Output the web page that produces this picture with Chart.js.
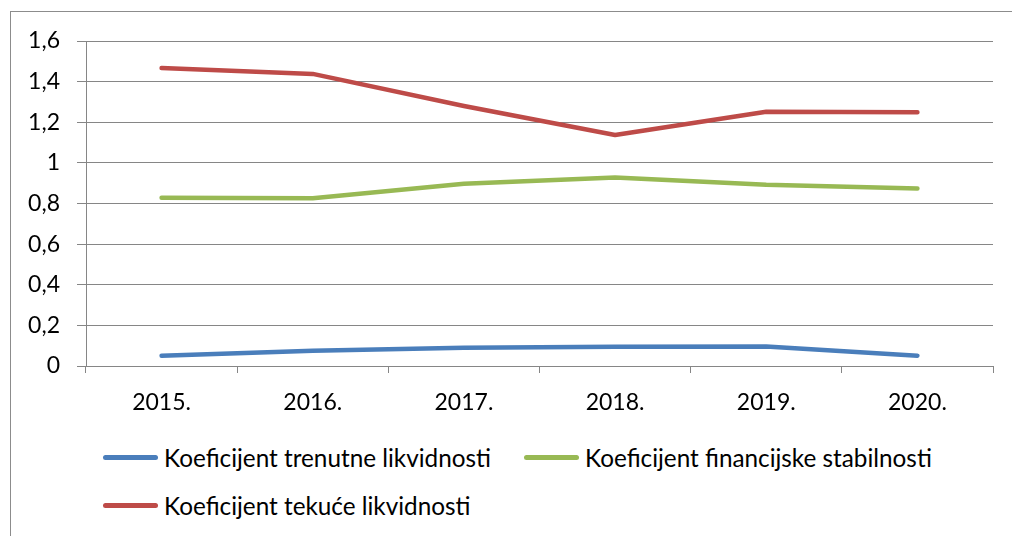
<!DOCTYPE html>
<html>
<head>
<meta charset="utf-8">
<script src="https://cdn.jsdelivr.net/npm/chart.js@4.4.1/dist/chart.umd.min.js"></script>
<style>
  html, body { margin: 0; padding: 0; background: #fff; }
  #page { position: relative; width: 1012px; height: 536px; overflow: hidden; }
  #frame { position: absolute; left: 10px; top: 11px; width: 1010px; height: 540px; border: 1px solid #8c8c8c; box-sizing: border-box; }
  #wrap { position: absolute; left: 0; top: 0; width: 1012px; height: 420px; }
  #legend { position: absolute; left: 103px; top: 443px; width: 860px; display: flex; flex-wrap: wrap; column-gap: 33px; row-gap: 20px;
            font-family: Lato, sans-serif; font-size: 24.3px; color: #000; }
  .item { display: flex; align-items: center; height: 28px; white-space: nowrap; }
  .swatch { width: 55px; height: 5px; border-radius: 3px; margin-right: 6px; }
</style>
</head>
<body>
<div id="page">
  <div id="frame"></div>
  <div id="wrap"><canvas id="chart"></canvas></div>
  <div id="legend"></div>
</div>
<script>
const years = ['2015.', '2016.', '2017.', '2018.', '2019.', '2020.'];
const trenutna = [0.051, 0.075, 0.090, 0.095, 0.096, 0.051];
const financijska = [0.828, 0.826, 0.897, 0.928, 0.892, 0.874];
const tekuca = [1.467, 1.438, 1.280, 1.137, 1.252, 1.249];

const seriesNames = [
  'Koeficijent trenutne likvidnosti',
  'Koeficijent financijske stabilnosti',
  'Koeficijent tekuće likvidnosti'
];
const seriesColors = ['#4a7ebb', '#98b954', '#be4b48'];

const gridColor = '#868686';
const tickFont = { family: 'Lato', size: 23 };

const ctx = document.getElementById('chart').getContext('2d');
const chart = new Chart(ctx, {
  type: 'line',
  data: {
    labels: years,
    datasets: [trenutna, financijska, tekuca].map((vals, i) => ({
      label: seriesNames[i],
      data: vals,
      borderColor: seriesColors[i],
      backgroundColor: seriesColors[i],
      borderWidth: 4.5,
      borderCapStyle: 'round',
      borderJoinStyle: 'round',
      pointRadius: 0,
      tension: 0
    }))
  },
  options: {
    responsive: true,
    maintainAspectRatio: false,
    animation: false,
    layout: { padding: { left: 0, right: 19, top: 41, bottom: 0 } },
    plugins: {
      legend: { display: false },
      tooltip: { enabled: false }
    },
    scales: {
      x: {
        offset: true,
        grid: { offset: true, drawOnChartArea: false, drawTicks: true, tickLength: 7, color: gridColor },
        border: { display: true, color: gridColor },
        ticks: { color: '#000', font: tickFont, padding: 16, maxRotation: 0 },
        afterFit: (s) => { s.height = 54; }
      },
      y: {
        min: 0,
        max: 1.6,
        grid: { color: gridColor, tickLength: 9 },
        border: { display: true, color: gridColor },
        ticks: {
          stepSize: 0.2,
          color: '#000',
          font: tickFont,
          padding: 17,
          callback: (v) => String(Math.round(v * 10) / 10).replace('.', ',')
        },
        afterFit: (s) => { s.width = 86; }
      }
    }
  }
});

// legend built from the datasets
const legendEl = document.getElementById('legend');
chart.data.datasets.forEach((ds) => {
  const item = document.createElement('div');
  item.className = 'item';
  const sw = document.createElement('span');
  sw.className = 'swatch';
  sw.style.background = ds.borderColor;
  const txt = document.createElement('span');
  txt.textContent = ds.label;
  item.appendChild(sw);
  item.appendChild(txt);
  legendEl.appendChild(item);
});
</script>
</body>
</html>
